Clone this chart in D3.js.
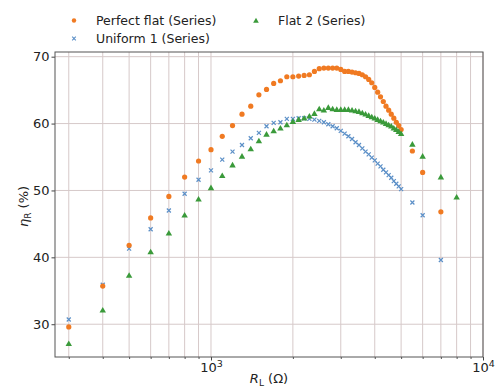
<!DOCTYPE html>
<html>
<head>
<meta charset="utf-8">
<script src="https://cdn.jsdelivr.net/npm/d3@7"></script>
<style>
  body { margin: 0; background: #fff; }
  text { font-family: "DejaVu Sans", sans-serif; fill: #222; }
</style>
</head>
<body>
<svg id="chart" width="496" height="390"></svg>
<script>
// load resistance (ohm) for each measured point
const rLoad = [300, 400, 500, 600, 700, 800, 900, 1000,
  1100, 1200, 1300, 1400, 1500, 1600, 1700, 1800, 1900, 2000,
  2100, 2200, 2300, 2400, 2500, 2600, 2700, 2800, 2900, 3000,
  3100, 3200, 3300, 3400, 3500, 3600, 3700, 3800, 3900, 4000,
  4100, 4200, 4300, 4400, 4500, 4600, 4700, 4800, 4900, 5000,
  5500, 6000, 7000];
const rLoadFlat2 = [300, 400, 500, 600, 700, 800, 900, 1000,
  1100, 1200, 1300, 1400, 1500, 1600, 1700, 1800, 1900, 2000,
  2100, 2200, 2300, 2400, 2500, 2600, 2700, 2800, 2900, 3000,
  3100, 3200, 3300, 3400, 3500, 3600, 3700, 3800, 3900, 4000,
  4100, 4200, 4300, 4400, 4500, 4600, 4700, 4800, 4900, 5000,
  5500, 6000, 7000, 8000];

const perfectFlat = [29.6, 35.7, 41.8, 45.9, 49.1, 52.0, 54.4, 56.1,
  58.1, 59.7, 61.4, 62.6, 64.3, 65.1, 66.0, 66.4, 67.0, 67.0,
  67.1, 67.2, 67.3, 67.8, 68.2, 68.3, 68.3, 68.3, 68.3, 68.1,
  67.8, 67.8, 67.7, 67.6, 67.5, 67.3, 67.0, 66.6, 66.1, 65.4,
  64.7, 64.0, 63.3, 62.6, 62.0, 61.4, 60.8, 60.2, 59.7, 59.1,
  55.9, 52.7, 46.8];
const uniform1 = [30.7, 35.9, 41.3, 44.2, 47.0, 49.5, 51.6, 53.0,
  54.6, 55.8, 56.8, 57.8, 58.6, 59.6, 60.1, 60.2, 60.7, 60.7,
  60.8, 60.8, 60.7, 60.6, 60.4, 60.2, 59.9, 59.6, 59.3, 58.9,
  58.5, 58.1, 57.7, 57.2, 56.8, 56.3, 55.8, 55.4, 54.9, 54.5,
  54.0, 53.6, 53.1, 52.7, 52.3, 51.9, 51.4, 51.0, 50.6, 50.2,
  48.2, 46.3, 39.6];
const flat2 = [27.1, 32.1, 37.3, 40.8, 43.6, 46.3, 48.7, 50.4,
  52.2, 53.8, 55.1, 56.2, 57.4, 58.4, 58.9, 59.3, 59.8, 60.3,
  60.6, 60.8, 61.1, 61.5, 62.2, 62.0, 62.4, 62.2, 62.1, 62.1,
  62.1, 62.1, 62.0, 61.9, 61.8, 61.6, 61.4, 61.2, 61.0, 60.8,
  60.6, 60.4, 60.2, 60.0, 59.8, 59.6, 59.3, 59.1, 58.8, 58.5,
  56.9, 55.1, 52.0, 49.0];

const xMajorTicks = [1000, 10000];
const xMinorTicks = [300, 400, 500, 600, 700, 800, 900,
  2000, 3000, 4000, 5000, 6000, 7000, 8000, 9000];
const yTicks = [30, 40, 50, 60, 70];

const svg = d3.select('#chart');
const plot = { left: 55, right: 483, top: 52, bottom: 357 };

const x = d3.scaleLog().domain([267, 10000]).range([plot.left, plot.right]);
const y = d3.scaleLinear().domain([25.1, 70.7]).range([plot.bottom, plot.top]);

const gridColor = '#d6c9c9';

// grid
svg.append('g').selectAll('line')
  .data(xMajorTicks.concat(xMinorTicks))
  .enter().append('line')
    .attr('x1', d => x(d)).attr('x2', d => x(d))
    .attr('y1', plot.top).attr('y2', plot.bottom)
    .attr('stroke', gridColor).attr('stroke-width', 1);
svg.append('g').selectAll('line')
  .data(yTicks)
  .enter().append('line')
    .attr('x1', plot.left).attr('x2', plot.right)
    .attr('y1', d => y(d)).attr('y2', d => y(d))
    .attr('stroke', gridColor).attr('stroke-width', 1);

// axes
const xMajor = svg.append('g')
  .attr('transform', `translate(0,${plot.bottom})`)
  .call(d3.axisBottom(x).tickValues(xMajorTicks).tickSize(3.5).tickFormat(() => ''));
xMajor.select('.domain').remove();
xMajor.selectAll('.tick line').attr('stroke', '#444');
xMajor.selectAll('.tick').append('text')
    .attr('y', 15)
    .attr('text-anchor', 'middle')
    .attr('font-size', 13)
    .each(function (d) {
      const t = d3.select(this);
      t.append('tspan').text('10');
      t.append('tspan').attr('dy', -5).attr('font-size', 9.5).text(Math.round(Math.log10(d)));
    });

const xMinor = svg.append('g')
  .attr('transform', `translate(0,${plot.bottom})`)
  .call(d3.axisBottom(x).tickValues(xMinorTicks).tickSize(2).tickFormat(() => ''));
xMinor.select('.domain').remove();
xMinor.selectAll('.tick line').attr('stroke', '#555');

const yAxis = svg.append('g')
  .attr('transform', `translate(${plot.left},0)`)
  .call(d3.axisLeft(y).tickValues(yTicks).tickSize(3.5).tickPadding(2));
yAxis.select('.domain').remove();
yAxis.selectAll('.tick line').attr('stroke', '#444');
yAxis.selectAll('.tick text').attr('font-size', 13).attr('fill', '#222')
  .style('font-family', '"DejaVu Sans", sans-serif');

// frame
svg.append('rect')
  .attr('x', plot.left).attr('y', plot.top)
  .attr('width', plot.right - plot.left).attr('height', plot.bottom - plot.top)
  .attr('fill', 'none').attr('stroke', '#555').attr('stroke-width', 1);

// markers
const orange = '#f07a22', blue = '#5b8fc7', green = '#3a9a3a';
const triangle = d3.symbol().type(d3.symbolTriangle).size(18);
const cross = 'M-2,-2L2,2M-2,2L2,-2';

svg.append('g').selectAll('path')
  .data(rLoad.map((r, i) => [r, uniform1[i]]))
  .enter().append('path')
    .attr('transform', d => `translate(${x(d[0])},${y(d[1])})`)
    .attr('d', cross)
    .attr('stroke', blue).attr('stroke-width', 1.2).attr('fill', 'none');

svg.append('g').selectAll('circle')
  .data(rLoad.map((r, i) => [r, perfectFlat[i]]))
  .enter().append('circle')
    .attr('cx', d => x(d[0])).attr('cy', d => y(d[1]))
    .attr('r', 2.6).attr('fill', orange);

svg.append('g').selectAll('path')
  .data(rLoadFlat2.map((r, i) => [r, flat2[i]]))
  .enter().append('path')
    .attr('transform', d => `translate(${x(d[0])},${y(d[1]) + 0.5})`)
    .attr('d', triangle)
    .attr('fill', green);

// axis labels
const xl = svg.append('text')
  .attr('x', (plot.left + plot.right) / 2).attr('y', 383)
  .attr('text-anchor', 'middle').attr('font-size', 13);
xl.append('tspan').attr('font-style', 'italic').text('R');
xl.append('tspan').attr('dy', 2.5).attr('font-size', 9).text('L');
xl.append('tspan').attr('dy', -2.5).text(' (Ω)');

const yl = svg.append('text')
  .attr('transform', `translate(28,${(plot.top + plot.bottom) / 2 + 2}) rotate(-90)`)
  .attr('text-anchor', 'middle').attr('font-size', 13);
yl.append('tspan').attr('font-style', 'italic').text('η');
yl.append('tspan').attr('dy', 3).attr('font-size', 9).text('R');
yl.append('tspan').attr('dy', -3).text(' (%)');

// legend
const legend = svg.append('g').attr('font-size', 12.5);
legend.append('circle').attr('cx', 74).attr('cy', 20.5).attr('r', 2.2).attr('fill', orange);
legend.append('text').attr('x', 96).attr('y', 25).text('Perfect flat (Series)');
legend.append('path').attr('transform', 'translate(256,21)')
  .attr('d', d3.symbol().type(d3.symbolTriangle).size(14)).attr('fill', green);
legend.append('text').attr('x', 278).attr('y', 25).text('Flat 2 (Series)');
legend.append('path').attr('transform', 'translate(74,38.5)')
  .attr('d', 'M-1.8,-1.8L1.8,1.8M-1.8,1.8L1.8,-1.8')
  .attr('stroke', blue).attr('stroke-width', 1.1).attr('fill', 'none');
legend.append('text').attr('x', 96).attr('y', 43).text('Uniform 1 (Series)');
</script>
</body>
</html>
